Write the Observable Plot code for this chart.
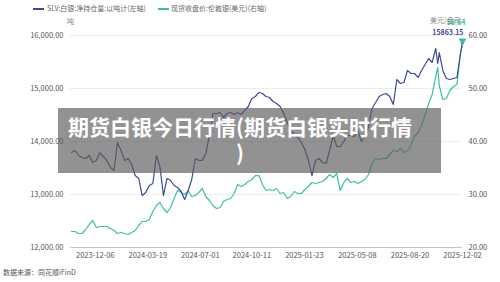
<!DOCTYPE html>
<html><head><meta charset="utf-8">
<script src="https://cdn.jsdelivr.net/npm/d3@7"></script>
<script src="https://cdn.jsdelivr.net/npm/@observablehq/plot@0.6"></script>
<style>
body{margin:0;width:500px;height:282px;overflow:hidden;background:#fff;font-family:"Noto Sans CJK SC","Noto Sans",sans-serif;}
#wrap{position:relative;width:500px;height:282px;}
#chart{position:absolute;left:0;top:0;}
.abs{position:absolute;white-space:nowrap;line-height:1;}
.leg{font-size:7px;color:#666;}
.sw{position:absolute;height:2px;width:11px;}
#banner{position:absolute;left:58px;top:108px;width:364px;height:52px;padding:5px 19px 8px 0;background:rgba(95,95,95,0.68);color:#fff;font-weight:700;font-size:21px;line-height:26px;text-align:center;font-family:"Noto Sans CJK SC",sans-serif;}
</style></head><body>
<div id="wrap">
  <div id="chart"></div>
  <div class="sw" style="left:33px;top:8px;background:#3d4a94"></div>
  <div class="abs leg" style="left:47px;top:5px">SLV:白银:净持仓量:以吨计(左轴)</div>
  <div class="sw" style="left:158px;top:8px;background:#3dbfa5"></div>
  <div class="abs leg" style="left:171px;top:5px">现货收盘价:伦敦银(美元)(右轴)</div>
  <div class="abs leg" style="left:67px;top:18px;color:#888">吨</div>
  <div class="abs leg" style="left:430px;top:17px;color:#888">美元/盎司</div>
  <div class="abs leg" style="left:3px;top:269px;color:#555">数据来源：同花顺iFinD</div>
  <div id="banner">期货白银今日行情(期货白银实时行情<br>)</div>
</div>
<script>
const dates = ["2023-10-20","2023-10-27","2023-11-03","2023-11-10","2023-11-17","2023-11-24","2023-12-01","2023-12-08","2023-12-15","2023-12-22","2023-12-29",
"2024-01-05","2024-01-12","2024-01-19","2024-01-26","2024-02-02","2024-02-09","2024-02-16","2024-02-23","2024-03-01","2024-03-08","2024-03-15","2024-03-22","2024-03-29","2024-04-05","2024-04-12","2024-04-19","2024-04-26","2024-05-03","2024-05-10","2024-05-17","2024-05-24","2024-05-31","2024-06-07","2024-06-14","2024-06-21","2024-06-28","2024-07-05","2024-07-12","2024-07-19","2024-07-26","2024-08-02","2024-08-09","2024-08-16","2024-08-23","2024-08-30","2024-09-06","2024-09-13","2024-09-20","2024-09-27","2024-10-04","2024-10-11","2024-10-18","2024-10-25","2024-11-01","2024-11-08","2024-11-15","2024-11-22","2024-11-29","2024-12-06","2024-12-13","2024-12-20","2024-12-27",
"2025-01-03","2025-01-10","2025-01-17","2025-01-24","2025-01-31","2025-02-07","2025-02-14","2025-02-21","2025-02-28","2025-03-07","2025-03-14","2025-03-21","2025-03-28","2025-04-04","2025-04-11","2025-04-18","2025-04-25","2025-05-02","2025-05-09","2025-05-16","2025-05-23","2025-05-30","2025-06-06","2025-06-13","2025-06-20","2025-06-27","2025-07-04","2025-07-11","2025-07-18","2025-07-25","2025-08-01","2025-08-08","2025-08-15","2025-08-22","2025-08-29","2025-09-05","2025-09-12","2025-09-19","2025-09-26","2025-10-03","2025-10-10","2025-10-14","2025-10-17","2025-10-24","2025-10-31","2025-11-07","2025-11-14","2025-11-21","2025-11-28","2025-12-02"];

const slvTons = [13792,13830,13736,13698,13679,13736,13604,13642,13792,13717,13642,
13509,13453,13981,13830,13642,13679,13566,13358,13302,12981,13038,13170,13208,13736,13528,12981,13302,13264,13170,13132,13057,12906,13075,13283,13679,13642,13642,13774,14113,14528,14528,14547,14453,14528,14547,14509,14547,14509,14585,14660,14811,14849,14925,14906,14849,14830,14755,14717,14660,14528,14359,14208,
14132,14076,13981,13849,13642,13358,13642,13679,13604,13585,13830,14113,13906,13906,14000,14113,14113,14094,14208,14000,14094,14283,14623,14736,14849,14887,14906,14849,14698,15170,15094,15113,15340,15283,15283,15208,15340,15453,15566,15491,15755,15472,15679,15340,15189,15170,15189,15208,15660,15863.15];

const silverUsd = [23.02,23.02,22.64,22.64,23.40,24.34,25.09,23.77,23.96,23.96,23.96,
23.58,23.21,22.64,22.83,22.64,22.45,22.83,23.21,24.15,24.91,24.91,25.28,26.79,27.92,28.49,27.36,26.60,27.55,29.24,30.75,30.38,30.00,30.75,29.62,29.81,30.38,31.13,29.62,28.87,27.92,27.36,27.55,28.68,29.06,29.24,30.19,31.89,31.51,31.89,32.45,32.83,33.58,33.58,31.89,30.75,30.94,30.75,31.13,30.19,30.38,29.24,29.62,
30.57,30.19,30.19,30.94,31.51,32.26,32.07,32.26,32.45,33.02,33.77,33.21,33.96,30.75,32.26,33.02,32.26,32.45,32.07,32.45,32.83,33.77,35.85,36.79,36.60,36.79,36.79,37.55,38.30,38.11,38.68,37.92,38.30,39.25,40.94,41.70,43.02,45.09,47.17,48.87,52.26,53.96,50.57,47.92,48.11,49.62,50.38,50.75,56.60,58.64];

const leftTicks = [12000,13000,14000,15000,16000];
const rightTicks = [20,30,40,50,60];
const xTicks = ["2023-12-06","2024-03-19","2024-07-01","2024-10-11","2025-01-23","2025-05-08","2025-08-20","2025-12-02"];

const BLUE = "#3d4a94", TEAL = "#3dbfa5";
const toLeft = v => 12000 + (v - 20) * 100;
const fromLeft = v => 20 + (v - 12000) / 100;

const rows = dates.map((d, i) => ({date: new Date(d), slv: slvTons[i], price: silverUsd[i]}));
const last = rows[rows.length - 1];

const chart = Plot.plot({
  width: 500, height: 262,
  marginLeft: 70, marginRight: 38, marginTop: 35, marginBottom: 15,
  style: {fontFamily: '"Noto Sans CJK SC","Noto Sans",sans-serif', fontSize: "7.5px", color: "#555", background: "transparent", overflow: "visible"},
  x: {type: "utc", domain: [new Date("2023-10-18"), new Date("2025-12-02")]},
  y: {domain: [12000, 16000]},
  marks: [
    Plot.ruleY(leftTicks.filter(t => t > 12000), {stroke: "#ececec", strokeWidth: 1}),
    Plot.ruleY([12000], {stroke: "#c4c4c4", strokeWidth: 1}),
    Plot.axisY({ticks: leftTicks, tickFormat: d3.format(",.2f"), tickSize: 0, tickPadding: 7, label: null}),
    Plot.axisY({anchor: "right", ticks: rightTicks.map(toLeft), tickFormat: v => d3.format(".2f")(fromLeft(v)), tickSize: 0, tickPadding: 6, label: null}),
    Plot.axisX({ticks: xTicks.map(d => new Date(d)), tickFormat: d3.utcFormat("%Y-%m-%d"), tickSize: 0, tickPadding: 5, label: null}),
    Plot.line(rows, {x: "date", y: d => toLeft(d.price), stroke: TEAL, strokeWidth: 1.2}),
    Plot.line(rows, {x: "date", y: "slv", stroke: BLUE, strokeWidth: 1.2}),
    Plot.dot([last], {x: "date", y: "slv", r: 1.8, fill: BLUE}),
    Plot.dot([last], {x: "date", y: d => toLeft(d.price), symbol: "triangle", rotate: 180, r: 3, fill: TEAL, dy: -2}),
    Plot.text([last], {x: "date", y: "slv", text: d => d3.format(".2f")(d.slv), textAnchor: "end", dx: 1, dy: -10, fill: BLUE, fontWeight: "bold", fontSize: 7}),
    Plot.text([last], {x: "date", y: d => toLeft(d.price), text: d => d3.format(".2f")(d.price), textAnchor: "end", dx: 3, dy: -20, fill: TEAL, fontWeight: "bold", fontSize: 7})
  ]
});
document.getElementById("chart").appendChild(chart);
</script>
</body></html>
